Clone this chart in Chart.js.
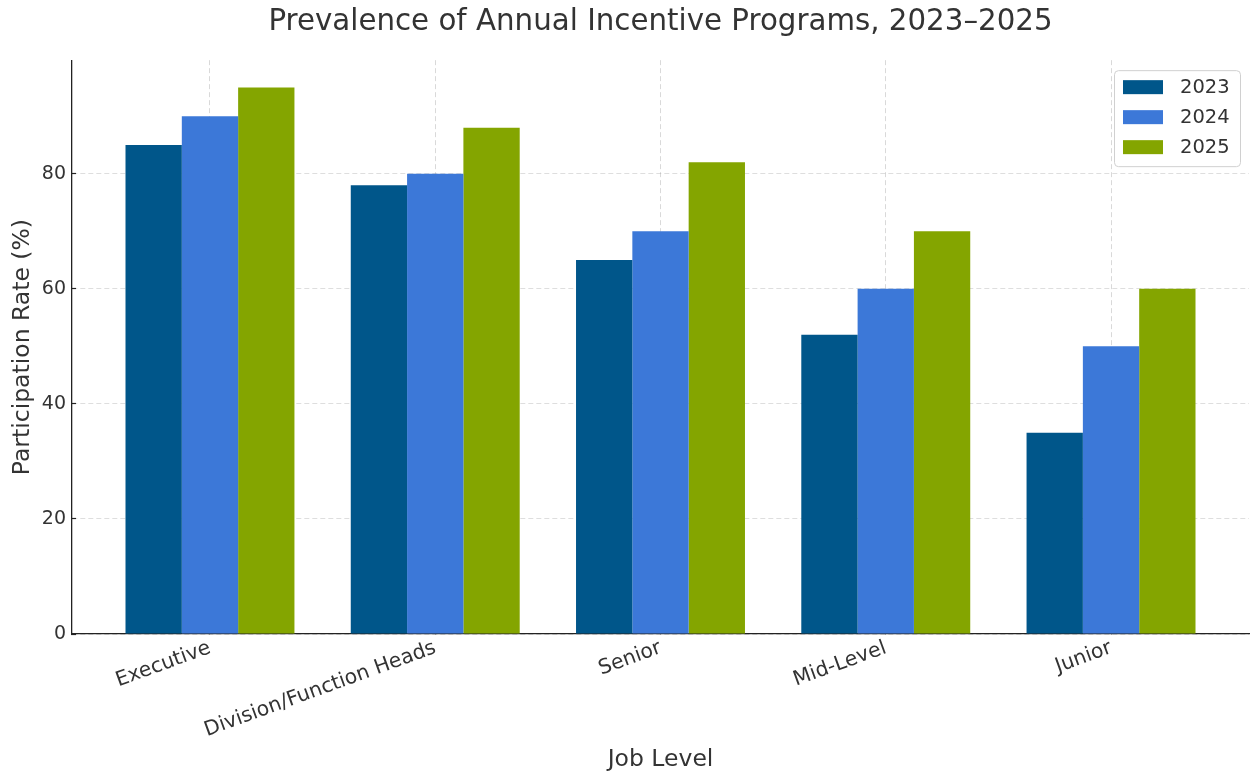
<!DOCTYPE html>
<html>
<head>
<meta charset="utf-8">
<script src="https://cdn.jsdelivr.net/npm/chart.js@4/dist/chart.umd.min.js"></script>
<style>
  html, body { margin: 0; padding: 0; background: #fff; }
  #wrap { width: 1250px; height: 774px; }
</style>
</head>
<body>
<div id="wrap"><canvas id="incentive-chart" width="1250" height="774"></canvas></div>
<script>
const jobLevels = ["Executive", "Division/Function Heads", "Senior", "Mid-Level", "Junior"];
const years = ["2023", "2024", "2025"];
const rate2023 = [85, 78, 65, 52, 35];
const rate2024 = [90, 80, 70, 60, 50];
const rate2025 = [95, 88, 82, 70, 60];
const yTicks = [0, 20, 40, 60, 80];

const yearColors = ["#00568a", "#3c78d8", "#84a500"];
const FONT = "'DejaVu Sans', sans-serif";
const TEXT = "#333333";

// bars sit on a linear x axis so the outer margins can be set freely
function toPoints(values) {
    return values.map((v, i) => ({ x: i, y: v }));
}

// center the title over the plot area rather than the whole canvas
const titleOverPlot = {
    id: "titleOverPlot",
    afterLayout(chart) {
        if (chart.titleBlock) {
            chart.titleBlock.left = chart.chartArea.left;
            chart.titleBlock.right = chart.chartArea.right;
        }
    }
};

// legend box drawn in the top right corner of the plot area
const cornerLegend = {
    id: "cornerLegend",
    afterDraw(chart) {
        const ctx = chart.ctx;
        const area = chart.chartArea;
        const sets = chart.data.datasets;
        const w = 126, h = 96;
        const x = area.right - 9 - w;
        const y = area.top + 10;
        ctx.save();
        ctx.fillStyle = "rgba(255,255,255,0.85)";
        ctx.strokeStyle = "#d0d0d0";
        ctx.lineWidth = 1;
        ctx.beginPath();
        ctx.roundRect(x + 0.5, y + 0.5, w, h, 4);
        ctx.fill();
        ctx.stroke();
        ctx.font = "19.5px " + FONT;
        ctx.textBaseline = "middle";
        ctx.textAlign = "left";
        sets.forEach((ds, i) => {
            const rowY = y + 17 + i * 30;
            ctx.fillStyle = ds.backgroundColor;
            ctx.fillRect(x + 9, rowY - 7, 40, 14);
            ctx.fillStyle = TEXT;
            ctx.fillText(ds.label, x + 66, rowY + 1);
        });
        ctx.restore();
    }
};

const ctx_chart = document.getElementById("incentive-chart").getContext("2d");
const incentive_chart = new Chart(ctx_chart, {
    type: "bar",
    data: {
        datasets: [rate2023, rate2024, rate2025].map((vals, i) => ({
            label: years[i],
            data: toPoints(vals),
            backgroundColor: yearColors[i],
            borderWidth: 0,
            barPercentage: 1.0,
            categoryPercentage: 0.75,
        }))
    },
    options: {
        responsive: false,
        animation: false,
        layout: { padding: { left: 0, right: 1, top: 0, bottom: 0 } },
        plugins: {
            legend: { display: false },
            tooltip: { enabled: false },
            title: {
                display: true,
                text: "Prevalence of Annual Incentive Programs, 2023\u20132025",
                color: TEXT,
                font: { family: FONT, size: 29.3, weight: "normal" },
                padding: { top: 5, bottom: 20 },
            },
        },
        scales: {
            x: {
                type: "linear",
                min: -0.6125,
                max: 4.6125,
                offset: false,
                z: 1,
                afterBuildTicks: (axis) => {
                    axis.ticks = jobLevels.map((_, i) => ({ value: i }));
                },
                afterFit: (axis) => { axis.height = 140; },
                ticks: {
                    callback: (value) => jobLevels[value],
                    color: TEXT,
                    font: { family: FONT, size: 20.4 },
                    minRotation: 20,
                    maxRotation: 20,
                    autoSkip: false,
                    padding: 6,
                },
                grid: {
                    offset: false,
                    color: "rgba(160,160,160,0.4)",
                    lineWidth: 1,
                    drawTicks: true,
                    tickLength: -4,
                    tickColor: "#222",
                    tickWidth: 1.2,
                    tickBorderDash: [],
                },
                border: { display: true, color: "#222", width: 1.3, dash: [5, 3] },
                title: {
                    display: true,
                    text: "Job Level",
                    color: TEXT,
                    font: { family: FONT, size: 23.5 },
                    padding: { top: 0, bottom: 0 },
                },
            },
            y: {
                min: 0,
                max: 99.75,
                z: 1,
                afterBuildTicks: (axis) => {
                    axis.ticks = yTicks.map(v => ({ value: v }));
                },
                afterFit: (axis) => { axis.width = 72; },
                ticks: {
                    color: TEXT,
                    font: { family: FONT, size: 19 },
                    padding: 10,
                },
                grid: {
                    color: "rgba(160,160,160,0.35)",
                    lineWidth: 1,
                    drawTicks: true,
                    tickLength: -4,
                    tickColor: "#222",
                    tickWidth: 1.2,
                    tickBorderDash: [],
                },
                border: { display: true, color: "#222", width: 1.3, dash: [5, 3] },
                title: {
                    display: true,
                    text: "Participation Rate (%)",
                    color: TEXT,
                    font: { family: FONT, size: 23.5 },
                    padding: { top: 9, bottom: 0 },
                },
            },
        },
    },
    plugins: [titleOverPlot, cornerLegend],
});
</script>
</body>
</html>
